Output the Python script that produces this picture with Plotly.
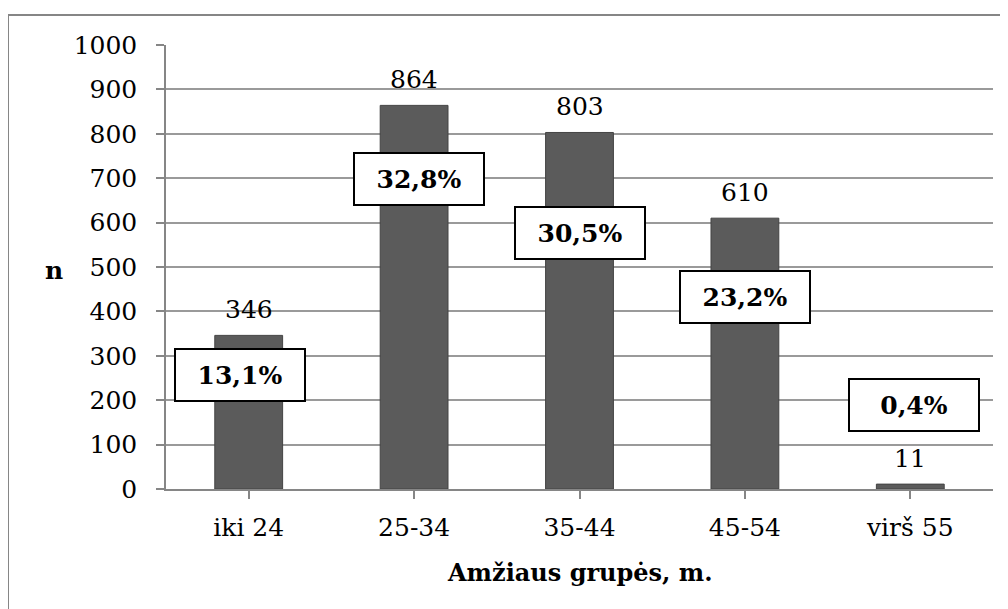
import plotly.graph_objects as go

categories = ["iki 24", "25-34", "35-44", "45-54", "virš 55"]
counts = [346, 864, 803, 610, 11]
percent_labels = ["13,1%", "32,8%", "30,5%", "23,2%", "0,4%"]
y_ticks = [0, 100, 200, 300, 400, 500, 600, 700, 800, 900, 1000]

# placement of the percentage boxes (layout, in axis units)
pct_box_y = [257, 698, 577, 433, 190]
pct_box_dx = [-0.05, 0.03, 0.0, 0.0, 0.02]

FONT = "DejaVu Serif"
OFF = 8  # page body margin
W, H = 1008, 609
ML, MR, MT, MB = 166 - OFF, 23, 45 - OFF, 128
pw = W - ML - MR
ph = H - MT - MB


def px_x(page_x):
    return (page_x - OFF - ML) / pw


def px_y(page_y):
    return (MT + ph - (page_y - OFF)) / ph


fig = go.Figure()
fig.add_trace(go.Bar(
    x=list(range(len(categories))), y=counts, width=0.41,
    marker=dict(color="#5b5b5b", line=dict(color="#444444", width=1)),
    hoverinfo="skip", showlegend=False,
))

annotations = []
for i, v in enumerate(counts):
    annotations.append(dict(
        x=i, y=v, xref="x", yref="y", text=str(v), showarrow=False,
        yanchor="bottom", yshift=9, font=dict(family=FONT, size=25, color="#000000"),
    ))
for i, (t, yy) in enumerate(zip(percent_labels, pct_box_y)):
    annotations.append(dict(
        x=i + pct_box_dx[i], y=yy, xref="x", yref="y", text="<b>%s</b>" % t, showarrow=False,
        xanchor="center", yanchor="middle", width=128, height=50,
        bgcolor="#ffffff", bordercolor="#000000", borderwidth=2, borderpad=0,
        font=dict(family=FONT, size=25, color="#000000"),
    ))
annotations.append(dict(
    x=px_x(54), y=px_y(270), xref="paper", yref="paper",
    text="<b>n</b>", showarrow=False, xanchor="center", yanchor="middle",
    font=dict(family=FONT, size=25, color="#000000"),
))
annotations.append(dict(
    x=0.5, y=px_y(572), xref="paper", yref="paper",
    text="<b>Amžiaus grupės, m.</b>", showarrow=False, xanchor="center", yanchor="middle",
    font=dict(family=FONT, size=24, color="#000000"),
))

shapes = [
    dict(type="line", xref="paper", yref="paper",
         x0=px_x(8), x1=px_x(W + 10), y0=px_y(15), y1=px_y(15),
         line=dict(color="#868686", width=2)),
    dict(type="line", xref="paper", yref="paper",
         x0=px_x(8), x1=px_x(8), y0=px_y(15), y1=px_y(H + 10),
         line=dict(color="#868686", width=2)),
]

fig.update_layout(
    width=W, height=H,
    margin=dict(l=ML, r=MR, t=MT, b=MB),
    paper_bgcolor="#ffffff", plot_bgcolor="#ffffff",
    font=dict(family=FONT, size=25, color="#000000"),
    annotations=annotations, shapes=shapes,
)
fig.update_xaxes(
    range=[-0.5, len(categories) - 0.5],
    tickmode="array", tickvals=list(range(len(categories))), ticktext=categories,
    tickson="boundaries", ticks="outside", ticklen=8, tickcolor="#868686", tickwidth=1.5,
    showline=True, linecolor="#868686", linewidth=1.5, showgrid=False, zeroline=False,
    ticklabelstandoff=7,
    tickfont=dict(family=FONT, size=25, color="#000000"),
)
fig.update_yaxes(
    range=[0, 1000], tickmode="array", tickvals=y_ticks, ticktext=[str(t) for t in y_ticks],
    ticks="outside", ticklen=8, tickcolor="#868686", tickwidth=1.5,
    showline=True, linecolor="#868686", linewidth=1.5,
    showgrid=True, gridcolor="#9a9a9a", gridwidth=1.5, zeroline=False,
    ticklabelstandoff=14,
    tickfont=dict(family=FONT, size=25, color="#000000"),
)

fig.write_html("out.html")
